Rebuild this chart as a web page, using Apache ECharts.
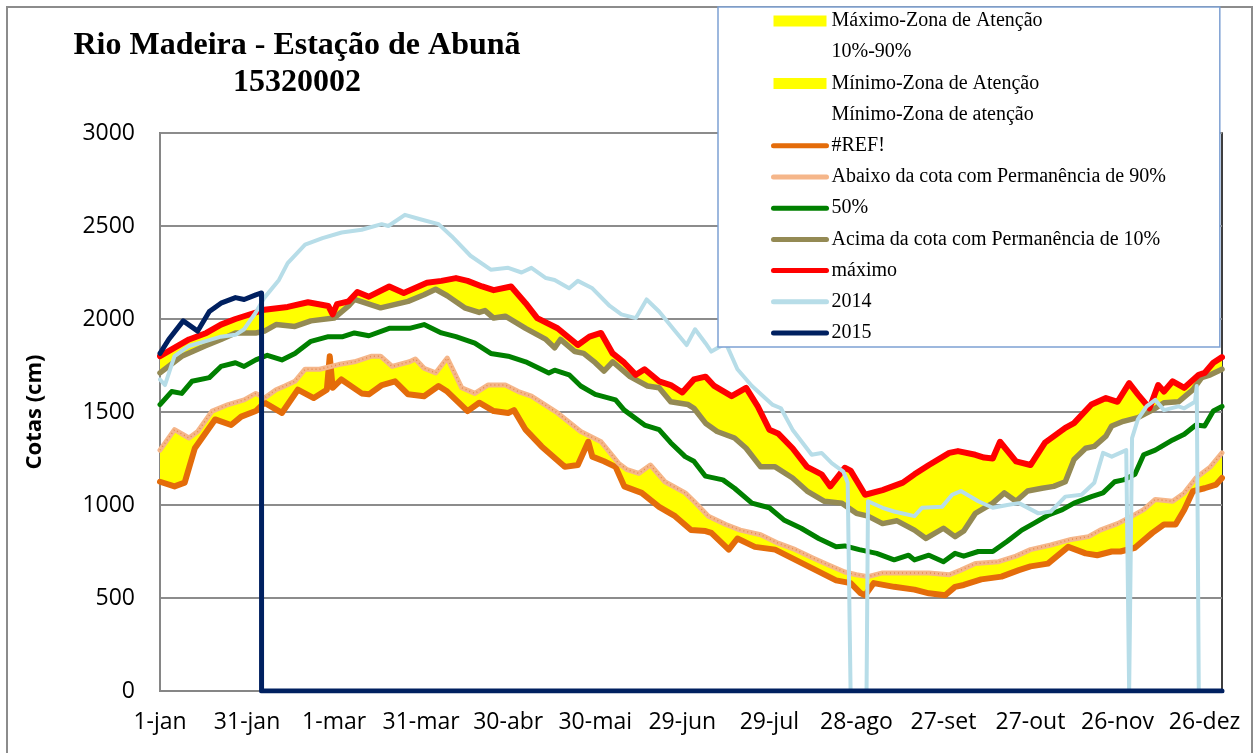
<!DOCTYPE html>
<html>
<head>
<meta charset="utf-8">
<script src="https://cdn.jsdelivr.net/npm/echarts@6/dist/echarts.min.js"></script>
<style>
html, body { margin: 0; padding: 0; background: #fff; }
#chart { width: 1258px; height: 753px; }
</style>
</head>
<body>
<div id="chart"></div>
<script>
// day of year (0 = 1-jan), cota in cm
const xLabels = ['1-jan', '31-jan', '1-mar', '31-mar', '30-abr', '30-mai', '29-jun', '29-jul', '28-ago', '27-set', '27-out', '26-nov', '26-dez']

const maxLine = [[0,1800],[10,1890],[16,1925],[21,1970],[26,2000],[33,2035],[36,2050],[44,2065],[51,2090],[58,2070],[59.5,2025],[61,2080],[65,2095],[68,2145],[72,2120],[79,2175],[84,2140],[92,2195],[97,2205],[102,2220],[106,2205],[111,2175],[115,2155],[121,2175],[126,2085],[130,2005],[137,1950],[144,1860],[148,1905],[152,1925],[156,1815],[160,1765],[164,1700],[167,1730],[172,1665],[176,1645],[180,1605],[184,1675],[188,1690],[191,1640],[197,1585],[202,1630],[206,1530],[210,1405],[213,1385],[218,1305],[223,1205],[228,1165],[231,1100],[236,1200],[238,1185],[243,1055],[249,1080],[256,1120],[260,1165],[265,1215],[272,1280],[275,1290],[281,1270],[284,1255],[287,1250],[289.5,1340],[295,1235],[300,1215],[305,1335],[312,1415],[315,1440],[321,1540],[326,1575],[330,1555],[334,1655],[337,1595],[341,1520],[344,1645],[346,1610],[349,1665],[353,1630],[358,1700],[360,1710],[363,1765],[366,1795]]

const p10Line = [[0,1710],[7.5,1800],[15.5,1855],[21,1890],[26,1925],[33,1925],[36,1935],[40,1970],[46.5,1960],[52,1990],[60,2005],[65,2070],[67,2105],[76,2060],[85.5,2095],[91,2130],[95,2160],[99,2125],[105,2060],[110,2035],[112,2045],[115,2005],[119,2015],[126,1950],[133,1890],[136,1845],[138,1890],[143,1825],[146,1815],[150,1765],[153,1720],[156,1770],[162,1690],[168,1640],[172,1630],[176,1555],[182,1540],[184,1520],[188,1440],[192,1395],[198,1360],[202,1305],[207,1205],[212,1205],[218,1145],[223,1075],[229,1020],[235,1010],[240,955],[244,940],[249,900],[254,915],[260,865],[264,820],[270,875],[274,830],[277,860],[281,955],[287,1010],[291,1065],[295,1020],[299,1075],[304,1090],[308,1100],[312,1125],[315,1245],[319,1305],[322,1315],[326,1370],[328,1425],[332,1450],[337,1470],[342,1510],[346,1550],[351,1555],[356,1620],[359,1685],[362,1700],[366,1730]]

const p50Line = [[0,1540],[4,1610],[7.5,1600],[11,1665],[17,1685],[21,1745],[26,1765],[29,1745],[33,1780],[37,1805],[42,1780],[46.5,1815],[52,1880],[58,1905],[63,1905],[67,1925],[72,1910],[79,1950],[86,1950],[91,1970],[97,1925],[102,1905],[108.5,1870],[114,1815],[120,1800],[126,1770],[134,1710],[136,1725],[141,1700],[145,1640],[150,1595],[157,1565],[160,1510],[167,1430],[172,1405],[176,1335],[181,1260],[184,1235],[188,1155],[194,1135],[198,1090],[204,1010],[210,985],[215,920],[221,875],[227,820],[233,775],[236,780],[241,760],[247,740],[253,705],[258,730],[260,705],[265,730],[270,695],[274,740],[277,725],[282,750],[287,750],[292,805],[297,865],[301,900],[306,945],[311,975],[315,1010],[321,1045],[325,1065],[329,1125],[332,1135],[336,1165],[339,1270],[343,1295],[349,1350],[353,1380],[357,1430],[360,1425],[363,1505],[366,1530]]

const p90Line = [[0,1295],[5,1405],[10,1360],[13,1395],[18,1505],[23.5,1540],[29,1565],[33,1600],[36,1575],[40,1620],[43,1640],[46.5,1665],[50,1730],[55,1730],[61.5,1755],[67,1770],[73,1800],[76,1800],[80,1745],[86,1770],[88,1785],[91,1735],[95,1710],[99,1790],[104,1630],[108.5,1600],[113,1645],[119,1645],[123.5,1610],[128,1585],[137,1495],[145,1395],[152,1340],[158,1225],[161,1190],[165,1170],[169,1215],[174,1125],[181,1065],[184,1020],[189,940],[195,895],[200,865],[207,840],[213,795],[219,760],[225,715],[230,680],[236,640],[240,625],[244,615],[249,635],[256,635],[265,635],[272,625],[276,650],[281,685],[289,695],[295,725],[300,760],[307,785],[314,815],[320,830],[324,865],[330,900],[335,940],[339,975],[343,1030],[349,1020],[353,1065],[357,1145],[362,1205],[366,1280]]

const minLine = [[0,1125],[5,1100],[8.5,1120],[12,1305],[19,1460],[24.5,1430],[28,1475],[33,1505],[36,1550],[42,1495],[47.5,1620],[53,1575],[57.5,1620],[58.5,1800],[59.5,1630],[62.5,1675],[69.5,1600],[72,1595],[76.5,1645],[81,1665],[85.5,1595],[91,1585],[96,1640],[99,1610],[106,1505],[110,1550],[115,1505],[120,1495],[122,1510],[126,1405],[131.5,1315],[139.5,1205],[144,1215],[147.6,1340],[149,1260],[153,1235],[157,1205],[160,1100],[166,1065],[172,990],[177.5,940],[183,865],[188,860],[190,850],[196,760],[199,820],[205,775],[212,760],[219,705],[226,650],[233,595],[238,580],[241.5,525],[243,515],[246,580],[253,560],[260,545],[265,525],[270.6,515],[274,560],[277,570],[283,600],[290,615],[296,650],[300,670],[306,685],[313,775],[319,740],[323,730],[328,750],[331,750],[336,770],[342,850],[346,895],[350,895],[353,975],[356,1075],[360,1090],[364,1110],[366,1145]]

const y2014 = [[0,1675],[1.7,1645],[5,1800],[10,1855],[15.5,1880],[21,1905],[26,1915],[29,1945],[33,2035],[36,2115],[41,2210],[44,2300],[50,2400],[56,2435],[62.6,2465],[69.5,2480],[76.4,2510],[78.7,2500],[84.4,2560],[90,2535],[96,2510],[100.5,2445],[107,2340],[114,2265],[120,2275],[124.6,2250],[128,2275],[133,2220],[136,2210],[141,2165],[144,2205],[149,2165],[155,2070],[159,2025],[164,2005],[167.7,2105],[172,2040],[177.5,1935],[181.5,1860],[184.4,1945],[188,1870],[190,1825],[195,1870],[199,1730],[204,1640],[211,1540],[214,1520],[218,1405],[224.6,1270],[228,1280],[231.5,1225],[235.5,1180],[237,1120],[238,0],[243.5,0],[244,1020],[249,985],[253,965],[260,940],[262.6,985],[269.5,990],[273,1055],[276,1075],[282,1020],[287,985],[292,1000],[296,1010],[302.7,955],[307,965],[312,1045],[317.6,1055],[322,1120],[325,1280],[328,1260],[333,1295],[334,0],[335,1360],[337,1460],[340,1530],[343,1565],[346,1510],[351,1530],[353,1520],[356.7,1555],[357.3,1640],[358,0],[366,0]]

const y2015 = [[0,1815],[3,1890],[8,1990],[13,1935],[17,2040],[21,2085],[26,2115],[29,2105],[33,2130],[35,2140],[35,0],[366,0]]

const YELLOW = '#FFFF00'
const CLEAR = 'rgba(0,0,0,0)'

// filled zone between two lines, drawn through the axis scales
const zone = (name, upper, lower, color) => ({
  name,
  type: 'custom',
  coordinateSystem: 'cartesian2d',
  data: upper ? [[0, 0]] : [],
  itemStyle: { color },
  silent: true,
  z: 1,
  renderItem: (params, api) => {
    const pts = upper.map((p) => api.coord(p)).concat(lower.slice().reverse().map((p) => api.coord(p)))
    return { type: 'polygon', shape: { points: pts }, style: { fill: color } }
  },
})

const line = (name, data, color, width, z) => ({
  name,
  type: 'line',
  data,
  symbol: 'none',
  z: z || 2,
  lineStyle: { color, width, join: 'round', cap: 'round' },
  itemStyle: { color },
  emphasis: { disabled: true },
})

const chart = echarts.init(document.getElementById('chart'))

chart.setOption({
  animation: false,
  title: {
    text: 'Rio Madeira - Estação de Abunã\n15320002',
    left: 297,
    top: 27,
    padding: 0,
    textAlign: 'center',
    textStyle: { fontFamily: 'Liberation Serif', fontWeight: 'bold', fontSize: 32, lineHeight: 37, color: '#000' },
  },
  graphic: [
    { type: 'rect', shape: { x: 7, y: 7, width: 1245, height: 800 }, style: { fill: null, stroke: '#8c8c8c', lineWidth: 2 }, z: -1, silent: true },
  ],
  grid: { left: 160, right: 36, top: 133, bottom: 62, show: true, borderColor: '#000', borderWidth: 1.5, backgroundColor: 'transparent' },
  legend: {
    orient: 'vertical',
    left: 718,
    top: 7,
    padding: [4, 54, 4, 53],
    itemWidth: 53,
    itemHeight: 11,
    itemGap: 11.2,
    selectedMode: false,
    backgroundColor: '#fff',
    borderColor: '#7EA1D3',
    borderWidth: 1.5,
    textStyle: { fontFamily: 'Liberation Serif', fontSize: 20, lineHeight: 20, color: '#000' },
    itemStyle: { color: CLEAR, borderWidth: 0 },
    lineStyle: { width: 5, cap: 'round' },
    data: [
      { name: 'Máximo-Zona de Atenção', icon: 'rect', itemStyle: { color: YELLOW } },
      { name: '10%-90%', icon: 'rect', itemStyle: { color: CLEAR } },
      { name: 'Mínimo-Zona de Atenção', icon: 'rect', itemStyle: { color: YELLOW } },
      { name: 'Mínimo-Zona de atenção', icon: 'rect', itemStyle: { color: CLEAR } },
      '#REF!',
      'Abaixo da cota com Permanência de 90%',
      '50%',
      'Acima da cota com Permanência de 10%',
      'máximo',
      '2014',
      '2015',
    ],
  },
  xAxis: {
    type: 'value',
    min: 0,
    max: 366,
    interval: 30,
    axisLine: { show: true, lineStyle: { color: '#868686', width: 2 } },
    axisTick: { show: false },
    splitLine: { show: false },
    axisLabel: {
      margin: 20,
      color: '#000',
      fontFamily: 'Open Sans',
      fontSize: 23,
      formatter: (v) => (v % 30 === 0 ? xLabels[v / 30] || '' : ''),
    },
  },
  yAxis: {
    type: 'value',
    min: 0,
    max: 3000,
    interval: 500,
    name: 'Cotas (cm)',
    nameLocation: 'middle',
    nameGap: 114,
    nameTextStyle: { fontFamily: 'Open Sans', fontWeight: 'bold', fontSize: 22, color: '#000' },
    axisLine: { show: true, lineStyle: { color: '#868686', width: 2 } },
    axisTick: { show: false },
    splitLine: { lineStyle: { color: '#8c8c8c', width: 2 } },
    axisLabel: { margin: 25, color: '#000', fontFamily: 'Open Sans', fontSize: 23, formatter: (v) => String(v) },
  },
  series: [
    zone('Máximo-Zona de Atenção', maxLine, p10Line, YELLOW),
    zone('10%-90%', null, null, CLEAR),
    zone('Mínimo-Zona de Atenção', p90Line, minLine, YELLOW),
    zone('Mínimo-Zona de atenção', null, null, CLEAR),
    line('#REF!', minLine, '#E46C0A', 6),
    line('Abaixo da cota com Permanência de 90%', p90Line, '#F5B68A', 5),
    { ...line('p90-texture', p90Line, '#E58A50', 1.5), lineStyle: { color: '#E58A50', width: 1.5, type: [1, 3] } },
    line('50%', p50Line, '#008000', 5),
    line('Acima da cota com Permanência de 10%', p10Line, '#948A54', 5.5),
    line('máximo', maxLine, '#FF0000', 6),
    line('2014', y2014, '#B7DDE8', 4),
    line('2015', y2015, '#002060', 5),
  ],
})
</script>
</body>
</html>
